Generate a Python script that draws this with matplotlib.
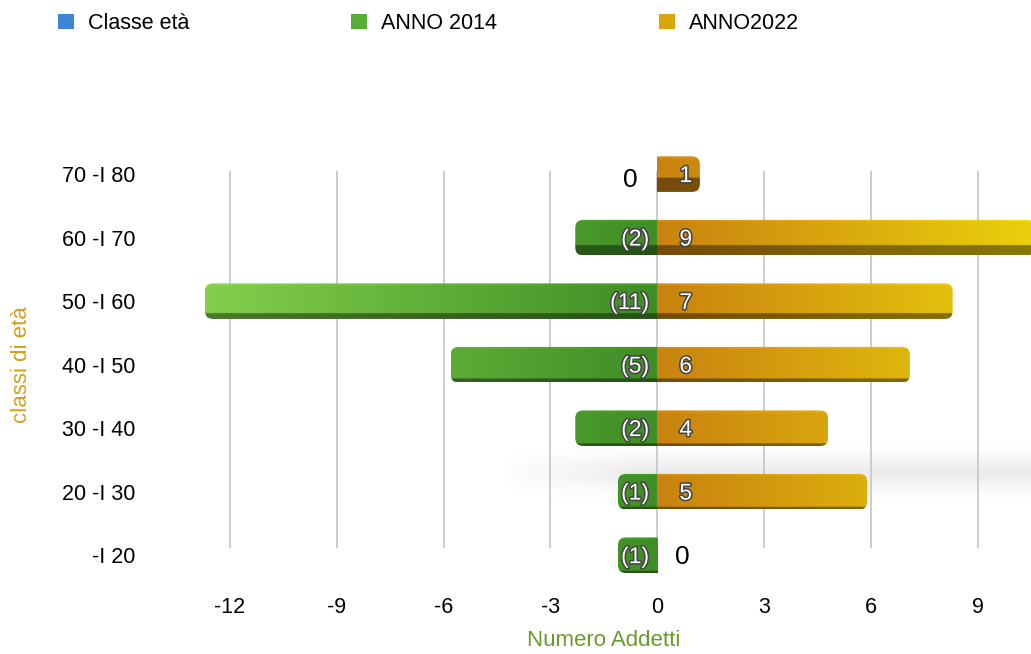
import numpy as np
import matplotlib.pyplot as plt
from matplotlib.patches import FancyBboxPatch, Patch
from matplotlib.colors import to_rgb
import matplotlib.patheffects as pe

plt.rcParams['font.family'] = ['Liberation Sans', 'DejaVu Sans']

# classi di eta (dal basso verso l'alto)
classi = ['-I 20', '20 -I 30', '30 -I 40', '40 -I 50', '50 -I 60', '60 -I 70', '70 -I 80']
# valori scritti sulle barre
addetti_2014 = [1, 1, 2, 5, 11, 2, 0]
addetti_2022 = [0, 5, 4, 6, 7, 9, 1]
# lunghezze delle barre (l'asse e' un po' piu' largo delle etichette)
barre_2014 = [-1.1, -1.1, -2.3, -5.8, -12.7, -2.3, 0]
barre_2022 = [0, 5.9, 4.8, 7.1, 8.3, 10.6, 1.2]
tick_x = [-12, -9, -6, -3, 0, 3, 6, 9]

verde_in, verde_out = np.array(to_rgb('#3e8d25')), np.array(to_rgb('#84d04c'))
oro_in, oro_out = np.array(to_rgb('#c98210')), np.array(to_rgb('#ead00c'))

fig = plt.figure(figsize=(10.31, 6.54), dpi=100)
ax = fig.add_axes([195 / 1031, 1 - 580 / 654, 836 / 1031, 430 / 654])

y = np.arange(len(classi))
h = 0.56
b14 = ax.barh(y, barre_2014, height=h, color='none', edgecolor='none')
b22 = ax.barh(y, barre_2022, height=h, color='none', edgecolor='none')


def sfuma(bar, c_in, c_out, xref, faccia):
    x = bar.get_x()
    w = bar.get_width()
    if w == 0:
        return
    x0, x1 = min(x, x + w), max(x, x + w)
    y0, hh = bar.get_y(), bar.get_height()
    xs = np.linspace(x0, x1, 300)
    t = np.clip(np.abs(xs) / xref, 0, 1)
    cols = c_in + (c_out - c_in) * t[:, None]
    ys = np.linspace(0, 1, 80)
    shade = np.where(ys < faccia, 0.58, 1.0)
    shade = shade + np.where(ys > 0.93, 0.05, 0.0)
    img = np.clip(cols[None, :, :] * shade[:, None, None], 0, 1)
    im = ax.imshow(img, extent=(x0, x1, y0, y0 + hh), origin='lower',
                   aspect='auto', interpolation='bilinear', zorder=2)
    r = 0.22
    # bordo arrotondato solo sul lato esterno
    if w < 0:
        cx0, cx1 = x0, x1 + r * 2
    else:
        cx0, cx1 = x0 - r * 2, x1
    clip = FancyBboxPatch((cx0, y0), cx1 - cx0, hh,
                          boxstyle='round,pad=0,rounding_size=%f' % r,
                          mutation_aspect=0.56, transform=ax.transData,
                          facecolor='none', edgecolor='none')
    im.set_clip_path(clip)


# faccia inferiore piu' visibile per le barre in alto (prospettiva)
facce = [0.06, 0.06, 0.07, 0.1, 0.16, 0.27, 0.4]
for i, bar in enumerate(b14):
    sfuma(bar, verde_in, verde_out, 12.8, facce[i])
for i, bar in enumerate(b22):
    sfuma(bar, oro_in, oro_out, 10.5, facce[i])

# ombra morbida dietro la barra 20-30
gx = np.linspace(-4.5, 10.5, 200)
gy = np.linspace(0.4, 2.2, 120)
ombra = np.exp(-((gy[:, None] - 1.3) / 0.25) ** 2) * np.clip((gx[None, :] + 4.5) / 4, 0, 1)
rgba = np.zeros((120, 200, 4))
rgba[..., :3] = 0.5
rgba[..., 3] = 0.15 * ombra
ax.imshow(rgba, extent=(-4.5, 10.5, 0.4, 2.2), origin='lower', aspect='auto',
          interpolation='bilinear', zorder=0.5)

ax.vlines(tick_x, 0.11, 6.05, color='#c8c8c8', linewidth=1.3, zorder=1)

bianco = [pe.withStroke(linewidth=2.2, foreground='#444444')]
for i in range(len(classi)):
    if addetti_2014[i] > 0:
        ax.annotate('(%d)' % addetti_2014[i], (0, y[i]), xytext=(-6, -1),
                    textcoords='offset points', ha='right', va='center',
                    color='white', fontsize=16.5, path_effects=bianco, zorder=5)
    else:
        ax.annotate('0', (0, y[i]), xytext=(-14, -4), textcoords='offset points',
                    ha='right', va='center', color='black', fontsize=19, zorder=5)
    if addetti_2022[i] > 0:
        ax.annotate('%d' % addetti_2022[i], (0, y[i]), xytext=(16, -1),
                    textcoords='offset points', ha='left', va='center',
                    color='white', fontsize=16.5, path_effects=bianco, zorder=5)
    else:
        ax.annotate('0', (0, y[i]), xytext=(13, -1), textcoords='offset points',
                    ha='left', va='center', color='black', fontsize=19, zorder=5)

ax.set_xlim(-12.98, 10.5)
ax.set_ylim(-0.39, 6.38)
ax.set_xticks(tick_x, labels=[str(t) for t in tick_x])
ax.set_yticks(y, labels=classi)
ax.tick_params(axis='both', length=0, labelsize=15.5, colors='black')
ax.tick_params(axis='y', pad=43)
ax.tick_params(axis='x', pad=12)
for s in ax.spines.values():
    s.set_visible(False)

fig.text(22 / 1031, 1 - 365 / 654, 'classi di età', rotation=90, ha='center',
         va='center', fontsize=16, color='#d2a11a')
fig.text(604 / 1031, 1 - 640 / 654, 'Numero Addetti', ha='center', va='center',
         fontsize=16, color='#6a9a2c')

handles = [Patch(facecolor='#3b86d6', label='Classe età'),
           Patch(facecolor='#58ad33', label='ANNO 2014'),
           Patch(facecolor='#dba30c', label='ANNO2022')]
fig.legend(handles=handles, loc='upper left', bbox_to_anchor=(58 / 1031, 1 - 13 / 654),
           ncol=3, frameon=False, fontsize=15.5, handlelength=0.75, handleheight=0.75,
           handletextpad=0.65, columnspacing=7.5, borderpad=0, borderaxespad=0)

fig.savefig('out.png', dpi=100)
